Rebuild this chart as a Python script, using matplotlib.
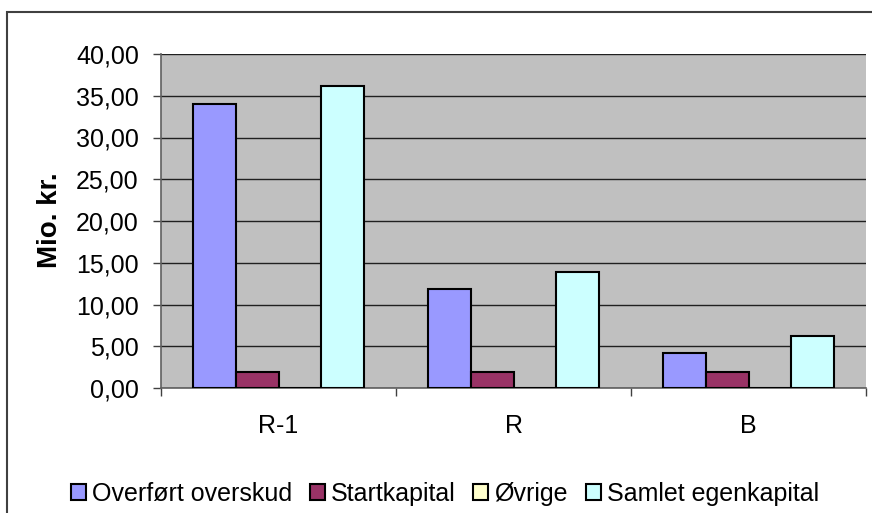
import matplotlib.pyplot as plt
import numpy as np
from matplotlib.patches import Rectangle
from matplotlib.ticker import FixedLocator

plt.rcParams['font.family'] = ['Liberation Sans', 'DejaVu Sans']

categories = ['R-1', 'R', 'B']
series_names = ['Overført overskud', 'Startkapital', 'Øvrige', 'Samlet egenkapital']
overfort = [34.0, 11.9, 4.25]
startkapital = [1.9, 1.9, 1.9]
ovrige = [0.0, 0.0, 0.0]
samlet = [36.2, 13.9, 6.2]
y_ticks = [0, 5, 10, 15, 20, 25, 30, 35, 40]

values = [overfort, startkapital, ovrige, samlet]
colors = ['#9999FF', '#993366', '#FFFFCC', '#CCFFFF']

fig = plt.figure(figsize=(8.72, 5.13), dpi=100)
ax = fig.add_axes([161 / 872, 1 - 388 / 513, (866 - 161) / 872, (388 - 54) / 513])

# outer chart frame (runs past right and bottom edge, as in the reference)
fig.patches.append(Rectangle((7 / 872, -0.2), 1.0, 1.2 - 12 / 513,
                             transform=fig.transFigure, fill=False,
                             edgecolor='#404040', linewidth=1.5, zorder=0))

x = np.arange(len(categories))
w = 1 / 5.5
for i, (name, vals, col) in enumerate(zip(series_names, values, colors)):
    ax.bar(x + (i - 1.5) * w, vals, width=w, color=col, edgecolor='black',
           linewidth=1.5, label=name, zorder=3)

ax.set_facecolor('#C0C0C0')
ax.set_xlim(-0.5, 2.5)
ax.set_ylim(0, 40)
ax.set_yticks(y_ticks)
ax.set_yticklabels([f'{v:.2f}'.replace('.', ',') for v in y_ticks], fontsize=18)
ax.yaxis.grid(True, color='#202020', linewidth=1.0, zorder=1)
ax.set_axisbelow(True)

ax.set_xticks(x)
ax.set_xticklabels(categories, fontsize=18)
ax.xaxis.set_minor_locator(FixedLocator([-0.5, 0.5, 1.5, 2.5]))
ax.tick_params(axis='x', which='major', length=0, pad=19)
ax.tick_params(axis='x', which='minor', length=6, width=1, color='#404040')
ax.tick_params(axis='y', length=6, width=1, color='#404040', pad=10)

for s in ['top', 'right']:
    ax.spines[s].set_visible(False)
ax.spines['left'].set_color('#606060')
ax.spines['bottom'].set_color('#606060')
ax.spines['left'].set_linewidth(1.2)
ax.spines['bottom'].set_linewidth(1.2)

fig.text(50 / 872, 1 - 220 / 513, 'Mio. kr.', rotation=90, fontsize=20,
         fontweight='bold', ha='center', va='center')

fig.legend(loc='center', bbox_to_anchor=(445 / 872, 1 - 494 / 513), ncol=4,
           frameon=False, fontsize=18, handlelength=0.6, handleheight=0.6,
           handletextpad=0.25, columnspacing=0.7)

fig.savefig('out.png', dpi=100)
